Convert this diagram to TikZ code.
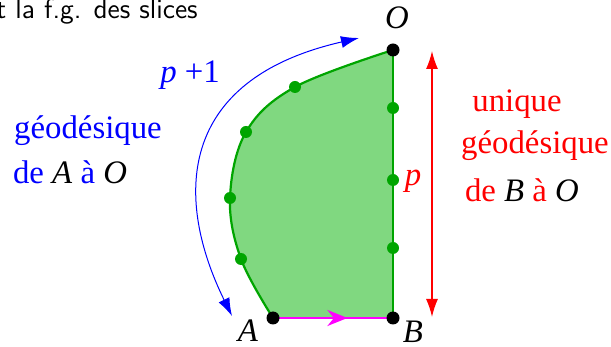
\documentclass[tikz,border=0pt]{standalone}
\usepackage{fontspec}
\setmainfont{Liberation Serif}
\usetikzlibrary{arrows.meta,decorations.markings}
\definecolor{gline}{RGB}{0,165,0}
\definecolor{gfill}{RGB}{128,216,128}
\definecolor{mag}{RGB}{255,0,255}
\begin{document}
\begin{tikzpicture}[x=0.5pt,y=-0.5pt,
  lbl/.style={inner sep=0pt,font=\fontsize{16.4}{19}\selectfont},
  blackdot/.style={circle,fill=black,inner sep=0pt,minimum size=6.5pt},
  greendot/.style={circle,fill=gline,inner sep=0pt,minimum size=6pt},
  border/.style={gline,line width=1.1pt}]
\useasboundingbox (0,0) rectangle (611,347);
% key points
\coordinate (O) at (393,50);
\coordinate (B) at (393,318);
\coordinate (A) at (273,318);
\coordinate (c1) at (241,259);
\coordinate (c2) at (230,198);
\coordinate (c3) at (246,132);
\coordinate (c4) at (295,87);
% region
\fill[gfill] plot[smooth,tension=0.6] coordinates {(A) (c1) (c2) (c3) (c4) (O)} -- (B) -- cycle;
\draw[border] plot[smooth,tension=0.6] coordinates {(A) (c1) (c2) (c3) (c4) (O)};
\draw[border] (O) -- (B);
% magenta side
\draw[mag,line width=1.1pt,postaction={decorate},
  decoration={markings,mark=at position 0.62 with {\arrow{Stealth[length=10pt,width=8pt]}}}] (A) -- (B);
% dots
\foreach \p in {c1,c2,c3,c4} \node[greendot] at (\p) {};
\node[greendot] (r1) at (393,108) {};
\node[greendot] (r2) at (393,180) {};
\node[greendot] (r3) at (393,248) {};
\node[blackdot] (Od) at (O) {};
\node[blackdot] (Bd) at (B) {};
\node[blackdot] (Ad) at (A) {};
% labels of points
\node[lbl] (Ol) at (397,18) {\textit{O}};
\node[lbl] (Al) at (248,331) {\textit{A}};
\node[lbl] (Bl) at (413,332) {\textit{B}};
% blue arrow
\coordinate (bs) at (232,316);
\coordinate (be) at (359,38);
\draw[blue,line width=0.5pt,{Latex[length=9pt,width=6pt]}-{Latex[length=9pt,width=6pt]}]
  (bs) .. controls (175,200) and (175,80) .. (be);
\node[lbl,blue] (p1) at (190,75) {\textit{p} +1};
\node[lbl,blue] (g1) at (88,131) {géodésique};
\node[lbl,blue] (g2) at (70,172) {de \textcolor{black}{\textit{A}} à \textcolor{black}{\textit{O}}};
% red arrow
\coordinate (rt) at (432,51);
\coordinate (rb) at (432,317);
\draw[red,line width=0.7pt,{Latex[length=9pt,width=6pt]}-{Latex[length=9pt,width=6pt]}] (rt) -- (rb);
\node[lbl,red] (pr) at (413,181) {\textit{p}};
\node[lbl,red] (u1) at (517,104) {unique};
\node[lbl,red] (u2) at (535,146) {géodésique};
\node[lbl,red] (u3) at (522,190) {de \textcolor{black}{\textit{B}} à \textcolor{black}{\textit{O}}};
% top-left text
\node[inner sep=0pt,anchor=west,font=\sffamily\fontsize{14}{16}\selectfont] (tt) at (-4,12) {t la f.g. des slices};
\end{tikzpicture}
\end{document}
